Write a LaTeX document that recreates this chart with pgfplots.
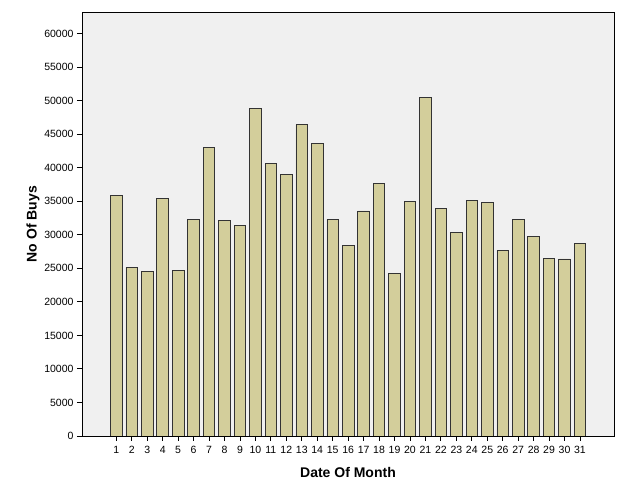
\documentclass[border=0pt]{standalone}
\usepackage{fontspec}
\setmainfont{Liberation Sans}
\usepackage{pgfplots}
\pgfplotsset{compat=1.18}
\definecolor{barfill}{HTML}{D3CE9B}
\definecolor{plotbg}{HTML}{F0F0F0}
\begin{document}
\begin{tikzpicture}
\useasboundingbox (-82pt,-66pt) rectangle (545pt,436pt);
\begin{axis}[
  at={(0pt,0pt)}, anchor=south west,
  scale only axis, width=532pt, height=423.5pt,
  xmin=-1.22, xmax=33.2, ymin=0, ymax=63160,
  axis background/.style={fill=plotbg},
  axis line style={black, line width=0.9pt},
  ybar, bar width=0.75,
  xtick={1,...,31}, ytick={0,5000,...,60000},
  scaled y ticks=false,
  /pgf/number format/assume math mode=true,
  /pgf/number format/1000 sep={},
  tick align=outside, tick pos=left, major tick length=5pt,
  tick style={black, line width=0.9pt},
  ticklabel style={font=\fontsize{10.5}{12}\selectfont},
  xticklabel style={yshift=-2pt},
  xlabel={\textbf{Date Of Month}},
  ylabel={\textbf{No Of Buys}},
  label style={font=\fontsize{14}{16}\selectfont},
  xlabel style={at={(rel axis cs:0.5,0)}, anchor=center, yshift=-37pt},
  ylabel style={at={(rel axis cs:0,0.5)}, anchor=center, yshift=49pt},
]
\addplot[draw=black!80, line width=0.8pt, fill=barfill] coordinates {
(1,35900) (2,25160) (3,24560) (4,35450) (5,24700) (6,32360) (7,43000)
(8,32200) (9,31370) (10,48870) (11,40670) (12,39070) (13,46430) (14,43650)
(15,32360) (16,28380) (17,33560) (18,37730) (19,24200) (20,35000) (21,50460)
(22,33900) (23,30380) (24,35150) (25,34850) (26,27700) (27,32360) (28,29780)
(29,26500) (30,26400) (31,28780)
};
\end{axis}
\end{tikzpicture}
\end{document}
